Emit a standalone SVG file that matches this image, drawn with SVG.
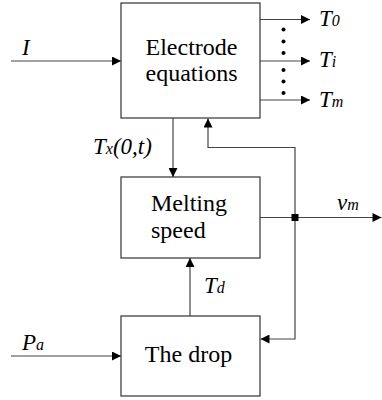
<svg xmlns="http://www.w3.org/2000/svg" width="382" height="400" viewBox="0 0 382 400">
<style>
.box{fill:#fff;stroke:#333;stroke-width:1.2}
.ln{fill:none;stroke:#444;stroke-width:1.2}
.t{font-family:'Liberation Serif','Times New Roman',serif;font-size:24px;fill:#000}
.i{font-family:'Liberation Serif','Times New Roman',serif;font-style:italic;font-size:23px;fill:#000}
.s{font-size:16px}
</style>
<defs>
<marker id="ah" viewBox="0 0 10 10" refX="10" refY="5" markerWidth="10" markerHeight="9" markerUnits="userSpaceOnUse" orient="auto">
<path d="M0,0 L10,5 L0,10 Z" fill="#000"/>
</marker>
</defs>
<g id="connectors">
<line class="ln" x1="11" y1="61" x2="121" y2="61" marker-end="url(#ah)"/>
<line class="ln" x1="260" y1="19.5" x2="310" y2="19.5" marker-end="url(#ah)"/>
<line class="ln" x1="260" y1="61" x2="310" y2="61" marker-end="url(#ah)"/>
<line class="ln" x1="260" y1="100" x2="310" y2="100" marker-end="url(#ah)"/>
<g fill="#000">
<circle cx="283.5" cy="29.5" r="2"/><circle cx="283.5" cy="41.5" r="2"/><circle cx="283.5" cy="53" r="2"/>
<circle cx="283.5" cy="70" r="2"/><circle cx="283.5" cy="81.5" r="2"/><circle cx="283.5" cy="93" r="2"/>
</g>
<line class="ln" x1="173" y1="118" x2="173" y2="177" marker-end="url(#ah)"/>
<polyline class="ln" points="295,217 295,147.5 208,147.5 208,118.5" marker-end="url(#ah)"/>
<polyline class="ln" points="295,217 295,339 260.5,339" marker-end="url(#ah)"/>
<line class="ln" x1="260" y1="217.5" x2="381.5" y2="217.5" marker-end="url(#ah)"/>
<rect x="291.5" y="214" width="7" height="7" fill="#000"/>
<line class="ln" x1="190" y1="316" x2="190" y2="258" marker-end="url(#ah)"/>
<line class="ln" x1="11" y1="356" x2="121" y2="356" marker-end="url(#ah)"/>
</g>
<g id="electrode">
<rect class="box" x="121" y="3" width="139" height="115"/>
<text class="t" x="191.5" y="55" text-anchor="middle">Electrode</text>
<text class="t" x="191.5" y="81" text-anchor="middle">equations</text>
</g>
<g id="melting">
<rect class="box" x="121" y="177" width="139" height="81"/>
<text class="t" x="151" y="211">Melting</text>
<text class="t" x="151" y="238">speed</text>
</g>
<g id="drop">
<rect class="box" x="121" y="316" width="139" height="80"/>
<text class="t" x="188.5" y="362" text-anchor="middle">The drop</text>
</g>
<g id="labels">
<text class="i" x="22" y="55">I</text>
<text class="i" x="319" y="26">T<tspan class="s">0</tspan></text>
<text class="i" x="319" y="67">T<tspan class="s">i</tspan></text>
<text class="i" x="319" y="107">T<tspan class="s">m</tspan></text>
<text class="i" x="93" y="154">T<tspan class="s">x</tspan>(0,t)</text>
<text class="i" x="337" y="210">v<tspan class="s">m</tspan></text>
<text class="i" x="204" y="293">T<tspan class="s">d</tspan></text>
<text class="i" x="22" y="350">P<tspan class="s">a</tspan></text>
</g>
</svg>
